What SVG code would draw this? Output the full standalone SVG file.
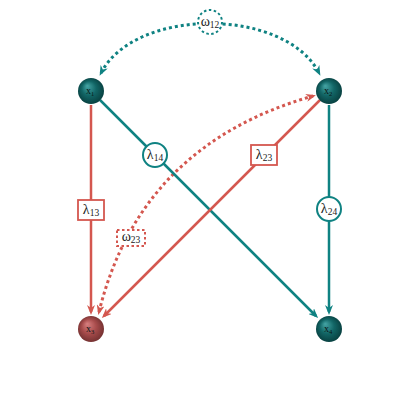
<svg xmlns="http://www.w3.org/2000/svg" width="420" height="420" viewBox="0 0 420 420">
<style>
.teal{stroke:#0f8282;fill:none;stroke-width:2.5}
.red{stroke:#d4574f;fill:none;stroke-width:2.5}
.dot{stroke-width:3;stroke-dasharray:3 3}
.lab{font-family:"Liberation Serif","DejaVu Serif",serif;font-size:14px;fill:#1a1a1a}
.sub{font-size:9.5px}
.nl{font-family:"Liberation Serif","DejaVu Serif",serif;font-size:10px;fill:#0a1515}
.ns{font-size:6.5px}
</style>
<defs>
<radialGradient id="gt" cx="0.5" cy="0.5" r="0.55" fx="0.35" fy="0.3">
<stop offset="0" stop-color="#45a5a5"/>
<stop offset="0.5" stop-color="#126666"/>
<stop offset="1" stop-color="#073c3c"/>
</radialGradient>
<radialGradient id="gr" cx="0.5" cy="0.5" r="0.55" fx="0.35" fy="0.3">
<stop offset="0" stop-color="#d88080"/>
<stop offset="0.5" stop-color="#a84c4c"/>
<stop offset="1" stop-color="#6e2e2e"/>
</radialGradient>
<marker id="at" viewBox="0 0 10 8" markerWidth="10" markerHeight="8" refX="7" refY="4" orient="auto-start-reverse" markerUnits="userSpaceOnUse">
<path d="M0,0 L10,4 L0,8 L3,4 Z" fill="#0f8282"/>
</marker>
<marker id="ar" viewBox="0 0 10 8" markerWidth="10" markerHeight="8" refX="7" refY="4" orient="auto-start-reverse" markerUnits="userSpaceOnUse">
<path d="M0,0 L10,4 L0,8 L3,4 Z" fill="#d4574f"/>
</marker>
</defs>
<g id="connectors">
<path class="teal dot" d="M101,73 C135,7 285,7 319,73" marker-start="url(#at)" marker-end="url(#at)"/>
<path class="red dot" d="M99,312 Q140,145 313,96" marker-start="url(#ar)" marker-end="url(#ar)"/>
<path class="red" d="M91,105 L91,312" marker-end="url(#ar)"/>
<path class="teal" d="M100,100 L316,316" marker-end="url(#at)"/>
<path class="red" d="M320,100 L104,316" marker-end="url(#ar)"/>
<path class="teal" d="M329,105 L329,312" marker-end="url(#at)"/>
</g>
<g id="w12">
<circle cx="210" cy="22" r="12" fill="#fff" stroke="#0f8282" stroke-width="2" stroke-dasharray="2.5 2.5"/>
<text class="lab" x="210" y="26" text-anchor="middle">ω<tspan class="sub" dy="2">12</tspan></text>
</g>
<g id="w23">
<rect x="117" y="230" width="28" height="16" fill="#fff" stroke="#d4574f" stroke-width="2" stroke-dasharray="2.5 2.5"/>
<text class="lab" x="131" y="241" text-anchor="middle">ω<tspan class="sub" dy="2">23</tspan></text>
</g>
<g id="l13">
<rect x="78" y="200" width="26" height="20" fill="#fff" stroke="#d4574f" stroke-width="1.8"/>
<text class="lab" x="91" y="214" text-anchor="middle">λ<tspan class="sub" dy="2">13</tspan></text>
</g>
<g id="l14">
<circle cx="155" cy="155" r="12" fill="#fff" stroke="#0f8282" stroke-width="2"/>
<text class="lab" x="155" y="159" text-anchor="middle">λ<tspan class="sub" dy="2">14</tspan></text>
</g>
<g id="l23">
<rect x="251" y="145" width="26" height="20" fill="#fff" stroke="#d4574f" stroke-width="1.8"/>
<text class="lab" x="264" y="159" text-anchor="middle">λ<tspan class="sub" dy="2">23</tspan></text>
</g>
<g id="l24">
<circle cx="329" cy="209" r="12" fill="#fff" stroke="#0f8282" stroke-width="2"/>
<text class="lab" x="329" y="213" text-anchor="middle">λ<tspan class="sub" dy="2">24</tspan></text>
</g>
<g id="x1">
<circle cx="91" cy="91" r="13" fill="url(#gt)"/>
<text class="nl" x="90" y="94" text-anchor="middle">x<tspan class="ns" dy="1.5">1</tspan></text>
</g>
<g id="x2">
<circle cx="329" cy="91" r="13" fill="url(#gt)"/>
<text class="nl" x="328" y="94" text-anchor="middle">x<tspan class="ns" dy="1.5">2</tspan></text>
</g>
<g id="x3">
<circle cx="91" cy="329" r="13" fill="url(#gr)"/>
<text class="nl" x="90" y="332" text-anchor="middle">x<tspan class="ns" dy="1.5">3</tspan></text>
</g>
<g id="x4">
<circle cx="329" cy="329" r="13" fill="url(#gt)"/>
<text class="nl" x="328" y="332" text-anchor="middle">x<tspan class="ns" dy="1.5">4</tspan></text>
</g>
</svg>
